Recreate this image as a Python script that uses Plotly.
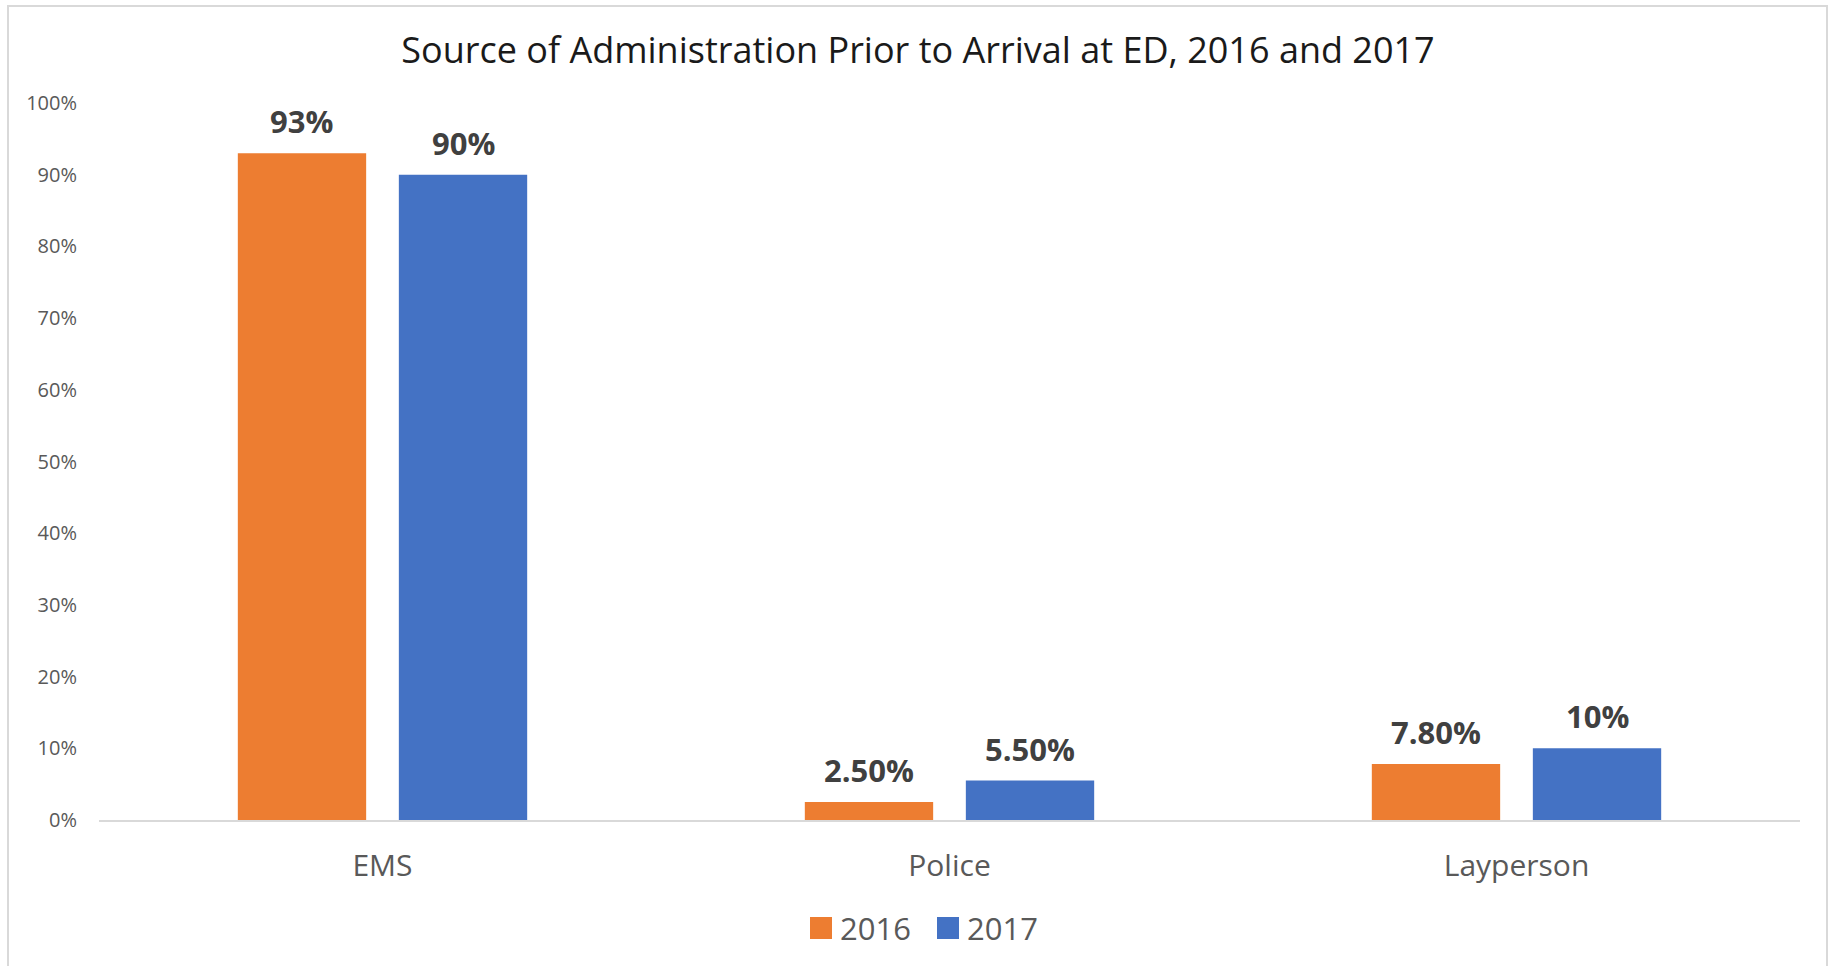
import plotly.graph_objects as go

# Chart data
categories = ["EMS", "Police", "Layperson"]
series_names = ["2016", "2017"]
values_2016 = [0.93, 0.025, 0.078]
values_2017 = [0.90, 0.055, 0.10]
labels_2016 = ["93%", "2.50%", "7.80%"]
labels_2017 = ["90%", "5.50%", "10%"]
y_tick_values = [0.0, 0.1, 0.2, 0.3, 0.4, 0.5, 0.6, 0.7, 0.8, 0.9, 1.0]
y_tick_labels = ["0%", "10%", "20%", "30%", "40%", "50%", "60%", "70%", "80%", "90%", "100%"]

colors = ["#ED7D31", "#4472C4"]
FONT = "Open Sans"
W, H = 1831, 966
ML, MR, MT, MB = 99, 31, 103, 146
PW, PH = W - ML - MR, H - MT - MB
BARGAP = 0.432
GROUPGAP = 0.203


def px_x(px):
    return (px - ML) / PW


def px_y(py):
    return (H - MB - py) / PH


fig = go.Figure()
for name, vals, col in zip(series_names, [values_2016, values_2017], colors):
    fig.add_trace(go.Bar(
        x=categories, y=vals, name=name,
        marker=dict(color=col, line=dict(width=0)),
        showlegend=False, hoverinfo="skip",
    ))

# Value labels above each bar
slot = (1 - BARGAP) / 2
annotations = []
for k, (vals, labs) in enumerate([(values_2016, labels_2016), (values_2017, labels_2017)]):
    off = (k - 0.5) * slot
    for i, (v, t) in enumerate(zip(vals, labs)):
        annotations.append(dict(
            x=i + off, y=v, xref="x", yref="y", text="<b>%s</b>" % t,
            showarrow=False, yanchor="bottom", yshift=9,
            font=dict(family=FONT, size=31, color="#404040"),
        ))

# Legend (squares + labels below the axis)
shapes = []
legend_x = [810, 937]
for name, col, lx in zip(series_names, colors, legend_x):
    shapes.append(dict(
        type="rect", xref="paper", yref="paper",
        x0=px_x(lx), x1=px_x(lx + 22), y0=px_y(939), y1=px_y(917),
        fillcolor=col, line=dict(width=0),
    ))
    annotations.append(dict(
        x=px_x(lx + 28), y=px_y(928), xref="paper", yref="paper",
        text=name, showarrow=False, xanchor="left", yanchor="middle",
        font=dict(family=FONT, size=31, color="#595959"),
    ))

# Outer chart frame
shapes.append(dict(
    type="rect", xref="paper", yref="paper",
    x0=px_x(8), x1=px_x(1827), y0=px_y(980), y1=px_y(6),
    line=dict(color="#d9d9d9", width=2), fillcolor="rgba(0,0,0,0)", layer="below",
))

fig.update_layout(
    width=W, height=H,
    margin=dict(l=ML, r=MR, t=MT, b=MB),
    paper_bgcolor="white", plot_bgcolor="white",
    barmode="group", bargap=BARGAP, bargroupgap=GROUPGAP,
    title=dict(
        text="Source of Administration Prior to Arrival at ED, 2016 and 2017",
        x=918 / W, xanchor="center", xref="container",
        y=1 - 50 / H, yanchor="middle", yref="container",
        font=dict(family=FONT, size=36, color="#1a1a1a"),
    ),
    xaxis=dict(
        showline=True, linecolor="#d9d9d9", linewidth=2,
        showgrid=False, ticks="", ticklabelstandoff=18,
        tickfont=dict(family=FONT, size=30, color="#595959"),
        fixedrange=True,
    ),
    yaxis=dict(
        range=[0, 1], tickvals=y_tick_values, ticktext=y_tick_labels,
        showgrid=False, zeroline=False, showline=False, ticks="",
        ticklabelstandoff=21,
        tickfont=dict(family=FONT, size=20, color="#595959"),
        fixedrange=True,
    ),
    annotations=annotations,
    shapes=shapes,
)

fig.write_html("out.html")
